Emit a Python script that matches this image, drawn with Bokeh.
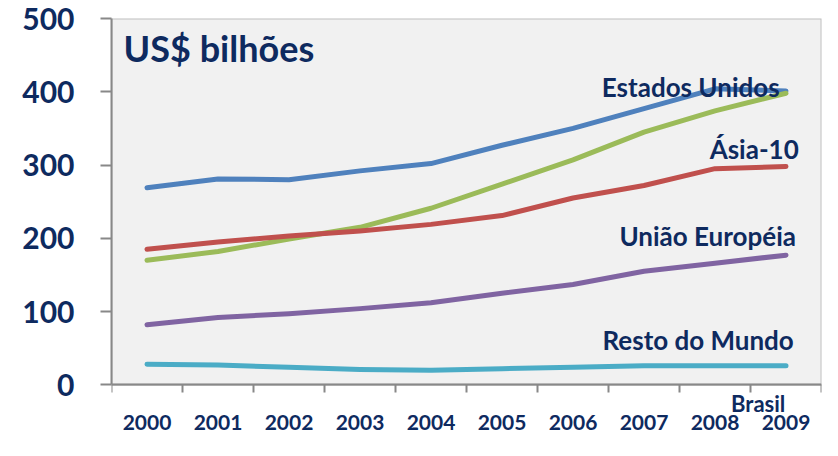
from bokeh.plotting import figure
from bokeh.models import FixedTicker, Label, Range1d, BoxAnnotation
from bokeh.embed import file_html
from bokeh.resources import INLINE

years = ["2000", "2001", "2002", "2003", "2004", "2005", "2006", "2007", "2008", "2009"]
estados_unidos = [269, 281, 280, 292, 302, 327, 350, 377, 404, 401]
asia_10 = [170, 182, 199, 215, 241, 274, 307, 345, 374, 398]
uniao_europeia = [185, 195, 203, 210, 219, 231, 255, 272, 295, 298]
resto_do_mundo = [82, 92, 97, 104, 112, 125, 137, 155, 166, 177]
brasil = [28, 27, 24, 21, 20, 22, 24, 26, 26, 26]
y_ticks = [0, 100, 200, 300, 400, 500]

NAVY = "#0e2a5f"
FONT = "Lato"
Y_MAX = 500
Y_BELOW = 76  # room under the zero line for the year labels and "Brasil"

xs = [i + 0.5 for i in range(len(years))]

p = figure(width=822, height=440, x_range=Range1d(0, len(years)), y_range=Range1d(-Y_BELOW, Y_MAX),
           output_backend="svg", toolbar_location=None,
           min_border_left=111, min_border_right=1, min_border_top=18, min_border_bottom=0,
           background_fill_color="white", border_fill_color="white",
           outline_line_color=None)
p.xgrid.visible = False
p.ygrid.visible = False

# grey plot area
p.add_layout(BoxAnnotation(left=0, right=len(years), bottom=0, top=Y_MAX,
                           fill_color="#f1f1f1", fill_alpha=1.0,
                           line_color="#c0c0c0", line_width=2, line_alpha=1.0,
                           level="underlay"))

series = [
    (estados_unidos, "#4f81bd"),
    (asia_10, "#9bbb59"),
    (uniao_europeia, "#c0504d"),
    (resto_do_mundo, "#8064a2"),
    (brasil, "#4bacc6"),
]
for vals, col in series:
    p.line(xs, vals, line_width=5, line_color=col, line_cap="round", line_join="round")

# x axis, fixed on the zero line
p.xaxis.fixed_location = 0
p.xaxis.ticker = FixedTicker(ticks=xs, minor_ticks=list(range(len(years) + 1)))
p.xaxis.major_label_overrides = {x: y for x, y in zip(xs, years)}
p.xaxis.major_tick_out = 0
p.xaxis.major_tick_in = 0
p.xaxis.minor_tick_out = 8
p.xaxis.minor_tick_in = 0
p.xaxis.minor_tick_line_color = "#888888"
p.xaxis.minor_tick_line_width = 2
p.xaxis.axis_line_color = "#888888"
p.xaxis.axis_line_width = 2
p.xaxis.major_label_standoff = 22
p.xaxis.major_label_text_font = FONT
p.xaxis.major_label_text_font_style = "bold"
p.xaxis.major_label_text_font_size = "21px"
p.xaxis.major_label_text_color = NAVY

# y axis
p.yaxis.ticker = FixedTicker(ticks=y_ticks)
p.yaxis.bounds = (0, Y_MAX)
p.yaxis.major_tick_out = 11
p.yaxis.major_tick_in = 0
p.yaxis.minor_tick_out = 0
p.yaxis.minor_tick_in = 0
p.yaxis.major_tick_line_color = "#888888"
p.yaxis.major_tick_line_width = 2
p.yaxis.axis_line_color = "#888888"
p.yaxis.axis_line_width = 2
p.yaxis.major_label_standoff = 26
p.yaxis.major_label_text_font = FONT
p.yaxis.major_label_text_font_style = "bold"
p.yaxis.major_label_text_font_size = "30px"
p.yaxis.major_label_text_color = NAVY

label_texts = ["US$ bilhões", "Estados Unidos", "Ásia-10", "União Européia", "Resto do Mundo", "Brasil"]
label_x = [0.17, 9.41, 9.68, 9.64, 9.61, 9.49]
label_y = [460, 406, 322, 203, 61, -26]
label_align = ["left", "right", "right", "right", "right", "right"]
label_size = ["36px", "26px", "26px", "26px", "26px", "22px"]

for t, x, y, a, s in zip(label_texts, label_x, label_y, label_align, label_size):
    p.add_layout(Label(x=x, y=y, text=t, text_align=a, text_baseline="alphabetic",
                       text_font=FONT, text_font_style="bold", text_font_size=s,
                       text_color=NAVY))

open("out.html", "w").write(file_html(p, INLINE))
